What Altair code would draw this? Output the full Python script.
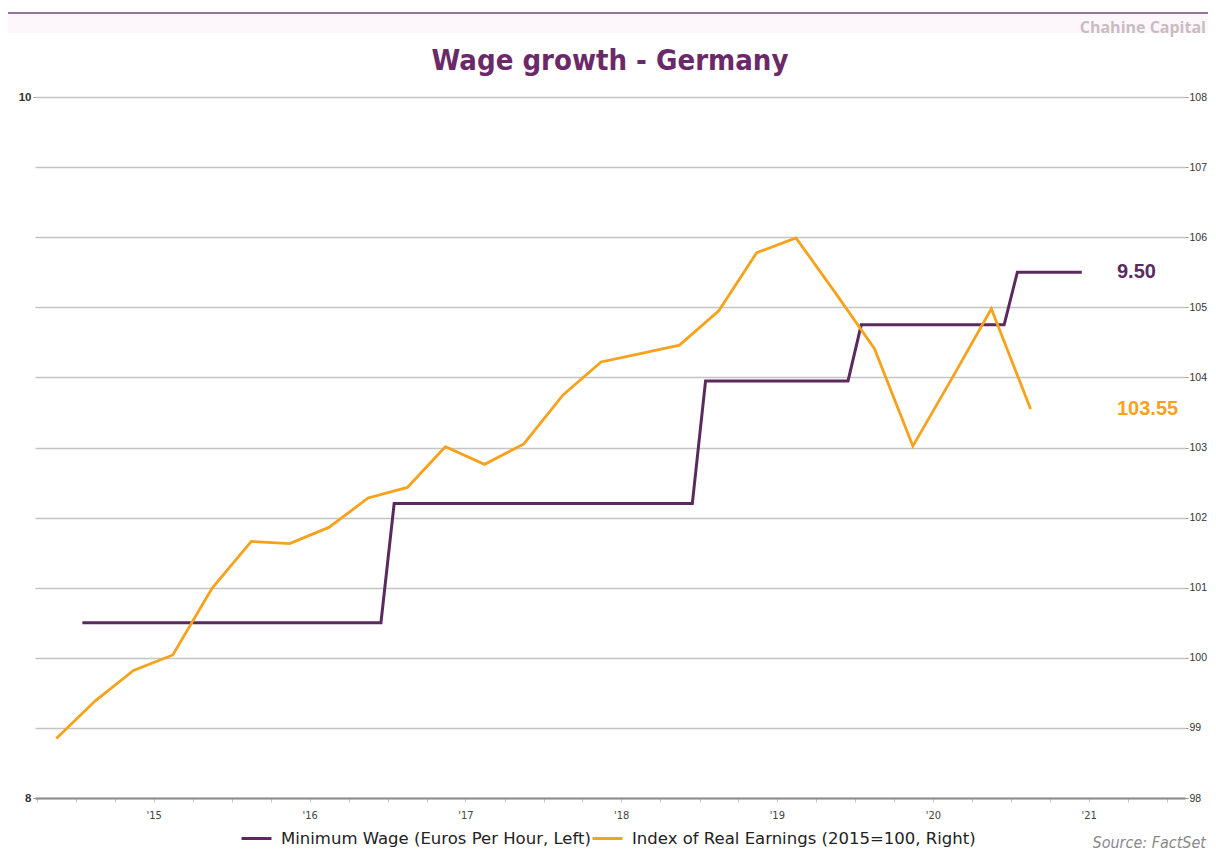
import altair as alt
import pandas as pd

# ---------------- data ----------------
wage_change_months = ["2015-01", "2017-01", "2019-01", "2020-01", "2021-01"]
wage_levels = [8.50, 8.84, 9.19, 9.35, 9.50]
wage_first_month = "2015-01"
wage_last_month = "2021-06"

earn_dates = ["2014-11-15", "2015-02-15", "2015-05-15", "2015-08-15", "2015-11-15",
              "2016-02-15", "2016-05-15", "2016-08-15", "2016-11-15", "2017-02-15",
              "2017-05-15", "2017-08-15", "2017-11-15", "2018-02-15", "2018-05-15",
              "2018-08-15", "2018-11-15", "2019-02-15", "2019-05-15", "2019-08-15",
              "2019-11-15", "2020-02-15", "2020-05-15", "2020-08-15", "2020-11-15",
              "2021-02-15"]
earn_values = [98.85, 99.39, 99.82, 100.04, 100.99, 101.66, 101.63, 101.86, 102.28,
               102.43, 103.01, 102.76, 103.05, 103.75, 104.22, 104.34, 104.46, 104.95,
               105.78, 105.99, 105.21, 104.41, 103.02, 103.99, 104.98, 103.55]

series_names = ["Minimum Wage (Euros Per Hour, Left)", "Index of Real Earnings (2015=100, Right)"]
left_ticks = [8, 9, 10]
right_ticks = [98, 99, 100, 101, 102, 103, 104, 105, 106, 107, 108]

PURPLE = "#5a2a5f"
ORANGE = "#f7a21c"
FONT = "DejaVu Sans Condensed, Open Sans, sans-serif"
FONT_W = "DejaVu Sans, sans-serif"

# monthly step series of the minimum wage (mid-month points)
months = pd.date_range(wage_first_month + "-01", wage_last_month + "-01", freq="MS")
change_ts = [pd.Timestamp(m + "-01") for m in wage_change_months]
mw_rows = []
for m in months:
    lvl = [v for c, v in zip(change_ts, wage_levels) if c <= m][-1]
    mw_rows.append({"date": (m + pd.Timedelta(days=14)).strftime("%Y-%m-%d"),
                    "value": lvl, "series": series_names[0]})
df_mw = pd.DataFrame(mw_rows)
df_re = pd.DataFrame({"date": earn_dates, "value": earn_values, "series": series_names[1]})

# quarterly x ticks
qticks = pd.date_range("2014-10-01", "2022-01-01", freq="QS")
qtick_ms = [int(pd.Timestamp(t).tz_localize("UTC").timestamp() * 1000) for t in qticks]

x_scale = alt.Scale(type="utc",
                    domain=[alt.DateTime(year=2014, month=9, date=26, utc=True),
                            alt.DateTime(year=2022, month=2, date=12, utc=True)])
x_axis = alt.Axis(values=qtick_ms, title=None, grid=False,
                  labelExpr="utcmonth(datum.value) == 6 ? \"'\" + substring(toString(utcyear(datum.value)), 2, 4) : ''",
                  labelOverlap=False, labelFlush=False, labelFont=FONT, labelFontSize=11,
                  labelColor="#444444", labelPadding=7, tickSize=4, tickColor="#c8c8c8",
                  domainColor="#8c8c8c", domainWidth=2)
X = alt.X("date:T", scale=x_scale, axis=x_axis)

color = alt.Color("series:N", scale=alt.Scale(domain=series_names, range=[PURPLE, ORANGE]),
                  legend=alt.Legend(orient="none", legendX=205, legendY=725, direction="horizontal",
                                    title=None, symbolType="stroke", symbolSize=900,
                                    symbolStrokeWidth=3, labelFont=FONT_W, labelFontSize=16.5,
                                    labelColor="#222222", labelOffset=8, columnPadding=-10,
                                    labelLimit=600, padding=0))

left_axis = alt.Axis(values=left_ticks, format="d", title=None, grid=False, domain=False,
                     tickSize=2, tickColor="#999999", labelPadding=2, labelFont="Liberation Sans",
                     labelFontSize=11.5, labelFontWeight="bold", labelColor="#333333")
right_axis = alt.Axis(values=right_ticks, format="d", title=None, orient="right", grid=True,
                      gridColor="#c4c4c4", gridWidth=1.5, domain=False, tickSize=3,
                      tickColor="#999999", labelPadding=1, labelFont="Liberation Sans",
                      labelFontSize=10.5, labelColor="#333333")

Y_left = alt.Y("value:Q", scale=alt.Scale(domain=[8, 10], nice=False, zero=False), axis=left_axis)
Y_right = alt.Y("value:Q", scale=alt.Scale(domain=[98, 108], nice=False, zero=False), axis=right_axis)

mw_line = alt.Chart(df_mw).mark_line(strokeWidth=3).encode(x=X, y=Y_left, color=color)
mw_text = alt.Chart(df_mw.iloc[[-1]]).mark_text(
    align="left", baseline="middle", font="Liberation Sans", fontSize=20, fontWeight="bold",
    color=PURPLE).encode(x=alt.value(1082), y=Y_left, text=alt.Text("value:Q", format=".2f"))

re_line = alt.Chart(df_re).mark_line(strokeWidth=2.8).encode(x=X, y=Y_right, color=color)
re_text = alt.Chart(df_re.iloc[[-1]]).mark_text(
    align="left", baseline="middle", font="Liberation Sans", fontSize=20, fontWeight="bold",
    color=ORANGE).encode(x=alt.value(1082), y=Y_right, text=alt.Text("value:Q", format=".2f"))

left_layer = alt.layer(mw_line, mw_text)
right_layer = alt.layer(re_line, re_text)

one = alt.Data(values=[{"k": 1}])
band = alt.Chart(one).mark_rect(color="#fdf7fc").encode(
    x=alt.value(-27), x2=alt.value(1173), y=alt.value(-83), y2=alt.value(-64))
top_rule = alt.Chart(one).mark_rule(color="#6e4d6e", strokeWidth=1.5).encode(
    x=alt.value(-27), x2=alt.value(1173), y=alt.value(-84))
title = alt.Chart(one).mark_text(
    text="Wage growth - Germany", font=FONT, fontSize=29, fontWeight="bold", color="#6a2a6a",
    align="center", baseline="alphabetic").encode(x=alt.value(575), y=alt.value(-27))
brand = alt.Chart(one).mark_text(
    text="Chahine Capital", font="Open Sans", fontSize=16, fontWeight="bold", color="#c9bcc1",
    align="right", baseline="alphabetic").encode(x=alt.value(1171), y=alt.value(-64))
source = alt.Chart(one).mark_text(
    text="Source: FactSet", font=FONT, fontSize=16, fontStyle="italic", color="#8a8a8a",
    align="right", baseline="middle").encode(x=alt.value(1171), y=alt.value(746))

chart = alt.layer(band, top_rule, title, brand, source, left_layer, right_layer).resolve_scale(
    y="independent"
).properties(
    width=1150, height=701,
    padding={"left": 27, "top": 89, "right": 23, "bottom": 57},
    autosize=alt.AutoSizeParams(type="none"),
    background="white",
).configure_view(strokeWidth=0)

chart.save("out.html", embed_options={"renderer": "svg", "actions": False})
